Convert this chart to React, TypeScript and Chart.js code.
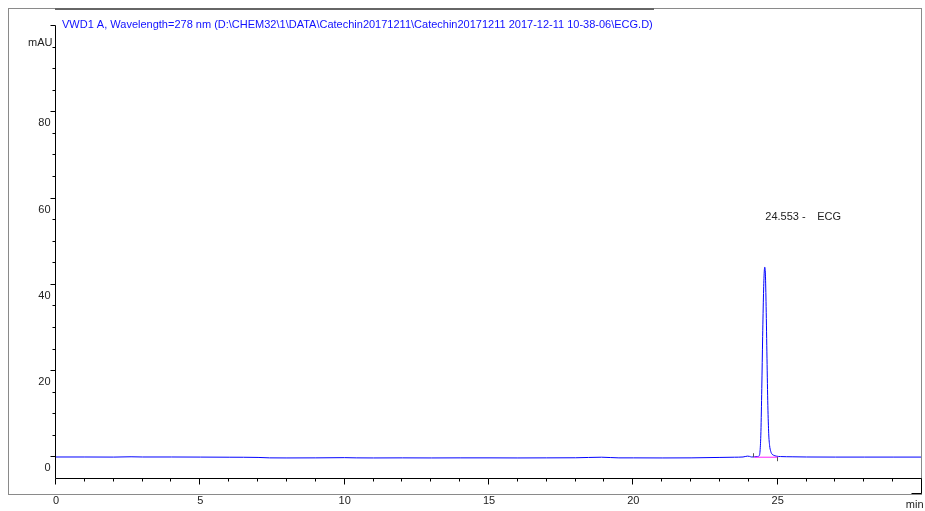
import React, { useEffect, useRef } from 'react';
import { Chart, registerables } from 'chart.js';

Chart.register(...registerables);

// ---- data ----
const TITLE = 'VWD1 A, Wavelength=278 nm (D:\\CHEM32\\1\\DATA\\Catechin20171211\\Catechin20171211 2017-12-11 10-38-06\\ECG.D)';
const Y_UNIT = 'mAU';
const X_UNIT = 'min';

// [retention time (min), signal (mAU)]
const CHROMATOGRAM: [number, number][] = [
  [0, 0.1], [1, 0.1], [2, 0.08], [2.6, 0.15], [3, 0.1], [4, 0.1], [5, 0.08], [6, 0.05],
  [7, 0.0], [7.4, -0.1], [8, -0.12], [9, -0.1], [10, -0.05], [10.4, -0.1], [11, -0.12],
  [12, -0.1], [13, -0.12], [14, -0.1], [15, -0.1], [16, -0.12], [17, -0.1], [18, -0.08],
  [18.9, 0.05], [19.5, -0.1], [20, -0.1], [21, -0.12], [22, -0.1], [23, 0.0], [23.5, 0.05],
  [23.8, 0.1], [23.95, 0.3], [24.02, 0.25], [24.1, 0.1], [24.2, 0.15], [24.3, 0.2],
  [24.36, 0.4], [24.39, 1.5], [24.42, 6], [24.45, 16], [24.48, 28], [24.51, 38],
  [24.535, 43], [24.553, 44.1], [24.575, 42.5], [24.6, 35], [24.63, 23], [24.66, 12],
  [24.69, 5.5], [24.72, 2.8], [24.76, 1.4], [24.8, 0.8], [24.86, 0.5], [24.95, 0.3],
  [25.1, 0.2], [25.5, 0.15], [26, 0.1], [27, 0.08], [28, 0.08], [29, 0.08], [30, 0.08],
];

// integration baseline (start, end) in min and mAU
const INTEGRATION_BASELINE: [number, number][] = [[24.19, 0.05], [25.02, 0.05]];

const PEAK_RT = 24.553;
const PEAK_NAME = 'ECG';
const PEAK_LABEL_Y = 55.7;

const X_MIN = 0;
const X_MAX = 30;
const Y_MIN = -5;
const Y_MAX = 100;

const X_MAJOR_TICKS = [0, 5, 10, 15, 20, 25, 30];
const X_TICK_LABELS = ['0', '5', '10', '15', '20', '25', ''];
const X_MINOR_STEP = 1;

const Y_MAJOR_TICKS = [0, 20, 40, 60, 80, 100];
const Y_TICK_LABELS = ['0', '20', '40', '60', '80', ''];
const Y_MINOR_STEP = 5;

const FONT = '"Liberation Sans", Arial, sans-serif';

const chromPlugin = {
  id: 'chromAxes',
  afterDraw(chart: any) {
    const ctx: CanvasRenderingContext2D = chart.ctx;
    const xs = chart.scales.x;
    const ys = chart.scales.y;
    const px = (v: number) => xs.getPixelForValue(v);
    const py = (v: number) => ys.getPixelForValue(v);
    ctx.save();

    // outer frame
    ctx.strokeStyle = '#8a8a8a';
    ctx.lineWidth = 1;
    ctx.strokeRect(8.5, 8.5, 913, 486);
    ctx.strokeStyle = '#666';
    ctx.lineWidth = 2;
    ctx.beginPath();
    ctx.moveTo(55, 9);
    ctx.lineTo(654, 9);
    ctx.stroke();

    const ax = Math.round(px(X_MIN)) - 0.5;
    const ay = Math.round(py(Y_MIN)) - 0.5;

    ctx.strokeStyle = '#000';
    ctx.lineWidth = 1;
    // y axis line
    ctx.beginPath();
    ctx.moveTo(ax, Math.round(py(Y_MAX)) - 0.5);
    ctx.lineTo(ax, ay);
    ctx.stroke();
    // y ticks
    ctx.beginPath();
    for (let v = 0; v <= Y_MAX + 0.001; v += Y_MINOR_STEP) {
      const major = Y_MAJOR_TICKS.includes(v);
      const y = Math.round(py(v)) - 0.5;
      ctx.moveTo(ax, y);
      ctx.lineTo(ax - (major ? 5 : 3), y);
    }
    ctx.stroke();

    // x axis line
    const xEnd = Math.round(px(X_MAX)) - 0.5;
    ctx.beginPath();
    ctx.moveTo(ax, ay);
    ctx.lineTo(xEnd, ay);
    ctx.stroke();
    // x ticks
    ctx.beginPath();
    for (let v = X_MIN; v < X_MAX - 0.001; v += X_MINOR_STEP) {
      const major = X_MAJOR_TICKS.includes(v);
      const x = Math.round(px(v)) - 0.5;
      ctx.moveTo(x, ay);
      ctx.lineTo(x, ay + (major ? 6 : 3));
    }
    // end bracket
    ctx.moveTo(xEnd, ay);
    ctx.lineTo(xEnd, ay + 15);
    ctx.lineTo(xEnd - 10, ay + 15);
    ctx.stroke();

    // labels
    ctx.fillStyle = '#222';
    ctx.font = `11px ${FONT}`;
    ctx.textAlign = 'right';
    ctx.textBaseline = 'middle';
    Y_MAJOR_TICKS.forEach((v, i) => {
      if (Y_TICK_LABELS[i]) ctx.fillText(Y_TICK_LABELS[i], ax - 5, py(v) + 11);
    });
    ctx.fillText(Y_UNIT, ax - 3, 43);
    ctx.textAlign = 'center';
    X_MAJOR_TICKS.forEach((v, i) => {
      if (X_TICK_LABELS[i]) ctx.fillText(X_TICK_LABELS[i], px(v), ay + 22);
    });
    ctx.textAlign = 'right';
    ctx.fillText(X_UNIT, xEnd + 2, ay + 26);

    // title
    ctx.fillStyle = '#1010ff';
    ctx.textAlign = 'left';
    ctx.fillText(TITLE, 62, 25);

    // integration marks
    ctx.strokeStyle = '#555';
    ctx.beginPath();
    const s = INTEGRATION_BASELINE[0];
    const e = INTEGRATION_BASELINE[1];
    const sx = Math.round(px(s[0])) - 0.5;
    const ex = Math.round(px(e[0])) - 0.5;
    ctx.moveTo(sx, py(s[1]));
    ctx.lineTo(sx, py(s[1]) - 4);
    ctx.moveTo(ex, py(e[1]));
    ctx.lineTo(ex, py(e[1]) + 4);
    ctx.stroke();

    // peak annotation
    ctx.fillStyle = '#222';
    ctx.textAlign = 'left';
    ctx.fillText(`${PEAK_RT.toFixed(3)} -`, px(PEAK_RT) + 0.5, py(PEAK_LABEL_Y));
    ctx.fillText(PEAK_NAME, px(PEAK_RT) + 52.5, py(PEAK_LABEL_Y));

    ctx.restore();
  },
};

export default function App() {
  const canvasRef = useRef<HTMLCanvasElement | null>(null);

  useEffect(() => {
    if (!canvasRef.current) return;
    const chart = new Chart(canvasRef.current, {
      type: 'line',
      data: {
        datasets: [
          {
            label: 'baseline',
            data: INTEGRATION_BASELINE.map(([x, y]) => ({ x, y })),
            borderColor: '#ff20ff',
            borderWidth: 1,
            pointRadius: 0,
            tension: 0,
          },
          {
            label: 'VWD1 A',
            data: CHROMATOGRAM.map(([x, y]) => ({ x, y })),
            borderColor: '#0000ff',
            borderWidth: 1,
            pointRadius: 0,
            cubicInterpolationMode: 'monotone',
          },
        ],
      },
      options: {
        responsive: false,
        animation: false,
        devicePixelRatio: 1,
        layout: { padding: { left: 56, right: 3, top: 26, bottom: 32 } },
        plugins: { legend: { display: false }, tooltip: { enabled: false } },
        scales: {
          x: { type: 'linear', min: X_MIN, max: X_MAX, display: false },
          y: { type: 'linear', min: Y_MIN, max: Y_MAX, display: false },
        },
      },
      plugins: [chromPlugin],
    });
    return () => chart.destroy();
  }, []);

  return (
    <div style={{ position: 'fixed', left: 0, top: 0, width: 925, height: 511, background: '#fff' }}>
      <canvas ref={canvasRef} width={925} height={511} style={{ display: 'block' }} />
    </div>
  );
}
